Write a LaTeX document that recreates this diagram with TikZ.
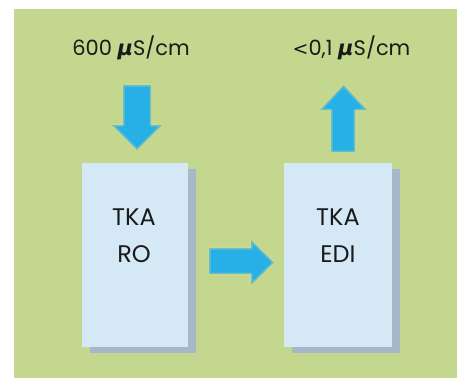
\documentclass[tikz,border=0pt]{standalone}
\usepackage{fontspec}
\setmainfont{Poppins}
\newfontfamily\mufont{DejaVu Sans}
\usetikzlibrary{shadows}
\definecolor{bggreen}{HTML}{C4D78E}
\definecolor{boxblue}{HTML}{D5E8F5}
\definecolor{shadowc}{HTML}{A5B8C9}
\definecolor{arrowc}{HTML}{27B0E6}
\definecolor{glowc}{HTML}{E2DC8C}
\definecolor{textc}{HTML}{1A1A1A}
\newcommand{\mymu}{{\mufont\bfseries\itshape μ}}
\newcommand{\mylt}{{\mufont\fontsize{19}{23}\selectfont <}}
\tikzset{
  stagebox/.style={fill=boxblue, draw=none, minimum width=106pt, minimum height=184pt, inner sep=0pt, anchor=north west,
    drop shadow={shadow xshift=8pt, shadow yshift=-6pt, fill=shadowc, opacity=1}},
  boxtext/.style={anchor=base, inner sep=0pt, text=textc, font=\fontsize{24}{28}\selectfont},
  toplabel/.style={anchor=base, inner sep=0pt, text=textc, font=\fontsize{21}{25}\selectfont},
  blockarrow/.style={fill=arrowc, draw=glowc, draw opacity=0.35, line width=3pt, line join=round},
}
\begin{document}
\begin{tikzpicture}[x=1pt,y=-1pt]
\useasboundingbox (0,0) rectangle (457,378);
\fill[white] (0,0) rectangle (457,378);
\fill[bggreen] (14,9) rectangle (457,378);

% boxes
\node[stagebox] (ro) at (82,163) {};
\node[stagebox, minimum width=108pt] (edi) at (284,163) {};
\node[boxtext] (ro1) at (134,225) {TKA};
\node[boxtext] (ro2) at (134,262) {RO};
\node[boxtext] (edi1) at (338,225) {TKA};
\node[boxtext] (edi2) at (338,262) {EDI};

% labels
\node[toplabel] (inlbl) at (131,55) {600 \mymu S/cm};
\node[toplabel] (outlbl) at (351.5,55) {\mylt0,1 \mymu S/cm};

% block arrows
\filldraw[blockarrow] (123,85) -- (151,85) -- (151,125) -- (162,125) -- (137,150) -- (112,125) -- (123,125) -- cycle;
\filldraw[blockarrow] (331,152) -- (355,152) -- (355,110) -- (367,110) -- (343.5,85) -- (320,110) -- (331,110) -- cycle;
\filldraw[blockarrow] (209,248) -- (251,248) -- (251,240) -- (274,262.5) -- (251,285) -- (251,274) -- (209,274) -- cycle;
\end{tikzpicture}
\end{document}
